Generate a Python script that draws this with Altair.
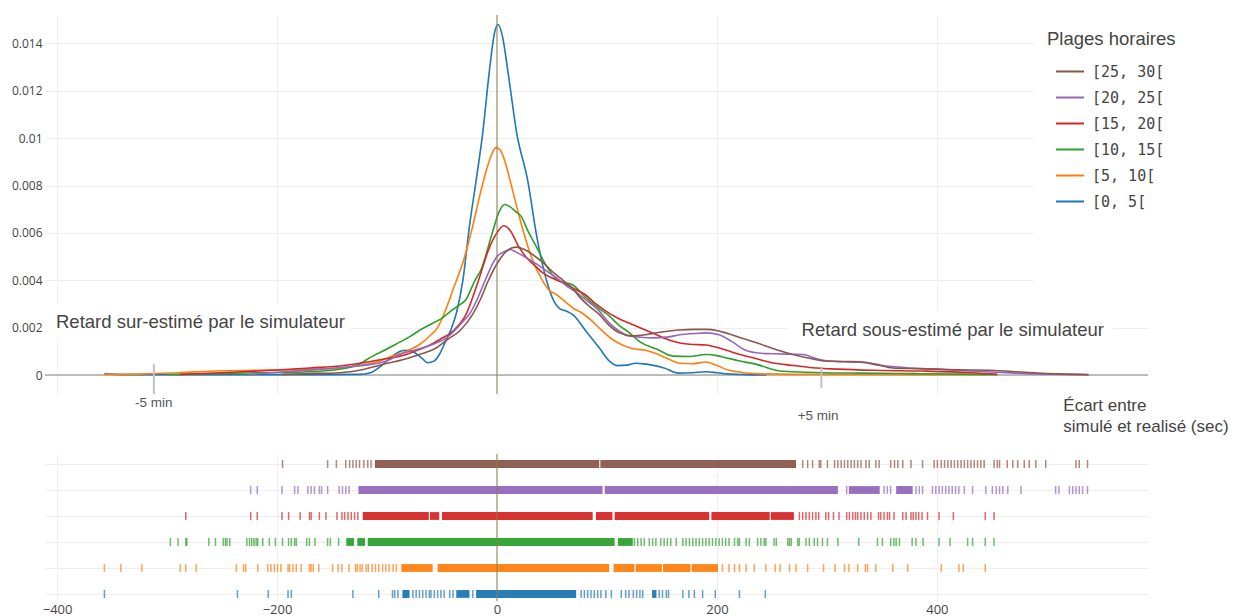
import altair as alt
import pandas as pd

# ---------------- categories / colours ----------------
series = ["[25, 30[", "[20, 25[", "[15, 20[", "[10, 15[", "[5, 10[", "[0, 5["]
colors = ["#8c564b", "#9467bd", "#d62728", "#2ca02c", "#ff7f0e", "#1f77b4"]

# ---------------- density curves ----------------
blue_x = [-357, -340, -300, -250, -200, -150, -125, -115, -105, -95, -88, -82, -75, -68, -63, -57, -52, -47, -42, -37,
          -31, -25, -19, -13, -7, -2, 1, 5, 10, 18, 28, 36, 45, 52, 57, 63, 69, 81, 93, 102, 110, 118, 126, 134, 141,
          152, 165, 178, 190, 200, 210, 225, 245]
blue_y = [0.00006, 0.00002, 0.00001, 0.00001, 0.00002, 0.00002, 0.00003, 0.0001, 0.0004, 0.0008, 0.001, 0.00105,
          0.00095, 0.0007, 0.00052, 0.0006, 0.0009, 0.0014, 0.0019, 0.0026, 0.004, 0.0063, 0.0082, 0.0102, 0.0128,
          0.0145, 0.0148, 0.0143, 0.0128, 0.0102, 0.0082, 0.0059, 0.0040, 0.0031, 0.0028, 0.0027, 0.00255, 0.00185,
          0.00115, 0.0006, 0.0004, 0.00042, 0.0005, 0.00047, 0.00042, 0.0003, 0.00008, 0.0001, 0.00014, 0.0001,
          0.00005, 0.00002, 0.0]

orange_x = [-357, -320, -290, -250, -220, -190, -160, -140, -125, -110, -95, -80, -70, -60, -54, -48, -40, -30, -22,
            -15, -8, -4, -1, 3, 8, 12, 18, 25, 32, 40, 47, 54, 62, 70, 78, 86, 95, 105, 115, 125, 135, 145, 155, 166,
            178, 190, 200, 211, 225, 240, 270, 320, 380, 445]
orange_y = [0.00003, 0.00005, 0.0001, 0.00018, 0.0002, 0.00022, 0.00026, 0.0003, 0.0004, 0.00055, 0.0008, 0.00105,
            0.0013, 0.0017, 0.002, 0.0026, 0.0036, 0.0049, 0.0063, 0.0077, 0.0089, 0.0094, 0.0096, 0.0095, 0.0089,
            0.0082, 0.0071, 0.0059, 0.0049, 0.0041, 0.0036, 0.0034, 0.0031, 0.0028, 0.0026, 0.0023, 0.0019, 0.0015,
            0.00125, 0.0011, 0.00105, 0.0009, 0.0007, 0.0005, 0.00048, 0.00055, 0.0004, 0.0002, 0.0001, 0.00005,
            0.00003, 0.00003, 0.00002, 0.00001]

green_x = [-298, -270, -240, -213, -180, -150, -128, -113, -100, -88, -80, -70, -58, -50, -42, -36, -28, -20, -14, -8,
           -3, 2, 7, 12, 17, 22, 28, 36, 45, 55, 62, 69, 80, 93, 102, 111, 120, 130, 145, 160, 175, 190, 200, 208,
           220, 236, 257, 280, 296, 330, 380, 420, 455]
green_y = [0.00002, 0.00005, 0.00008, 0.0001, 0.00012, 0.0002, 0.0004, 0.0008, 0.0011, 0.0014, 0.0016, 0.0019,
           0.0022, 0.0024, 0.0027, 0.0029, 0.0032, 0.0040, 0.0045, 0.0054, 0.0062, 0.0069, 0.0072, 0.0071, 0.0069,
           0.0067, 0.0061, 0.0054, 0.0046, 0.0040, 0.0039, 0.0038, 0.0033, 0.0028, 0.0025, 0.0021, 0.0018, 0.0014,
           0.0011, 0.0008, 0.00078, 0.00087, 0.00082, 0.00073, 0.0006, 0.00045, 0.00017, 0.00012, 0.0001, 0.00008,
           0.00006, 0.00004, 0.00002]

red_x = [-288, -250, -204, -170, -143, -113, -100, -88, -75, -64, -52, -40, -28, -17, -7, 0, 6, 12, 20, 28, 35, 42,
         50, 60, 72, 80, 90, 99, 110, 120, 130, 145, 160, 175, 190, 205, 220, 235, 250, 270, 287, 310, 341, 387, 432,
         455]
red_y = [0.00003, 0.0001, 0.0002, 0.0003, 0.00038, 0.00059, 0.0007, 0.0008, 0.001, 0.0012, 0.0015, 0.00186, 0.00257,
         0.00397, 0.00537, 0.006, 0.0063, 0.0061, 0.0054, 0.0049, 0.0046, 0.0043, 0.0041, 0.0039, 0.0036, 0.0034,
         0.0030, 0.0027, 0.0024, 0.0022, 0.002, 0.0017, 0.00143, 0.0013, 0.00127, 0.0011, 0.00088, 0.0007, 0.00052,
         0.0004, 0.00031, 0.00025, 0.0002, 0.00017, 0.0001, 0.00003]

purple_x = [-225, -190, -158, -135, -113, -100, -88, -75, -58, -45, -38, -30, -25, -18, -11, -5, 0, 6, 12, 17, 25,
            32, 39, 48, 57, 65, 72, 80, 93, 102, 111, 120, 130, 141, 155, 166, 178, 190, 202, 214, 226, 240, 250,
            265, 278, 290, 302, 315, 330, 350, 372, 395, 418, 440, 463, 490, 515, 538]
purple_y = [0.00003, 0.00015, 0.00025, 0.00035, 0.00046, 0.0006, 0.00088, 0.00105, 0.0013, 0.0016, 0.0019, 0.0023,
            0.00257, 0.0032, 0.00397, 0.0046, 0.005, 0.0052, 0.0053, 0.0052, 0.0050, 0.0048, 0.0046, 0.0043, 0.0040,
            0.0037, 0.0035, 0.0032, 0.0027, 0.0022, 0.00186, 0.00165, 0.0016, 0.00157, 0.0016, 0.0017, 0.00175,
            0.00178, 0.0017, 0.0014, 0.00105, 0.00092, 0.0009, 0.00088, 0.00087, 0.0007, 0.00059, 0.00056, 0.00054,
            0.0004, 0.00031, 0.00025, 0.0002, 0.00015, 0.0001, 0.00005, 0.00003, 0.00001]

brown_x = [-195, -170, -143, -125, -113, -100, -88, -75, -62, -55, -45, -34, -22, -15, -8, 0, 8, 17, 25, 32, 43, 52,
           60, 68, 75, 84, 93, 102, 111, 123, 135, 148, 165, 180, 190, 200, 208, 220, 236, 252, 269, 285, 299, 315,
           330, 345, 360, 380, 402, 420, 448, 480, 510, 538]
brown_y = [0.00003, 0.00006, 0.0001, 0.0002, 0.00034, 0.0005, 0.00062, 0.0008, 0.001, 0.00115, 0.0015, 0.00186,
           0.00257, 0.0032, 0.00397, 0.0047, 0.0052, 0.0054, 0.0053, 0.0051, 0.0047, 0.0043, 0.0040, 0.0037, 0.0033,
           0.0029, 0.00256, 0.0021, 0.00179, 0.00165, 0.0017, 0.00181, 0.0019, 0.00193, 0.00193, 0.00188, 0.00178,
           0.0016, 0.00136, 0.0011, 0.00087, 0.0007, 0.00059, 0.00057, 0.00056, 0.00045, 0.0003, 0.00027, 0.00025,
           0.00022, 0.0002, 0.00012, 0.00005, 0.00002]

# ---------------- rug: isolated ticks and dense stretches ----------------
blue_ticks = [-357, -236, -208, -190, -187, -131, -107.5, -95, -93, -90, -76.5, -73.5, -70.5, -67.5, -64.5, -61.5,
              -60, -57, -54, -51, -48, -43, -40, -22, 76.5, 79.5, 82.5, 85.5, 88.5, 91.5, 94.5, 99, 104, 113, 117,
              120, 124, 127, 130, 132.5, 147.5, 150.5, 154, 156, 169, 174.5, 179.5, 187, 198.5, 220.5, 244]
blue_bands = [(-86, -79.5), (-37, -25), (-19, 72), (141, 145)]

orange_ticks = [-357, -342, -323, -288, -283, -273.5, -237, -230.5, -228.5, -217.5, -208.5, -205.5, -202.5, -199.5,
                -196.5, -190, -188.5, -185.5, -182.5, -178, -170.5, -169, -167, -162, -149.5, -144.5, -141, -134.5,
                -128.5, -127, -124.5, -122.5, -119, -117, -113.5, -110.5, -107.5, -104, -101, -98, -94.5, -91.5,
                205, 211, 216, 220.5, 226.5, 234, 244.5, 253, 257.5, 266, 272, 282.5, 297, 307.5, 316, 320, 328, 335,
                337, 344.5, 360, 373.5, 404, 420, 424, 444]
orange_bands = [(-87, -58.5), (-54, 102), (106, 125), (126, 150), (151, 176), (177, 201)]

green_ticks = [-297, -290, -283, -282, -262, -256, -249, -247, -245.5, -243, -227.5, -225, -223, -221, -219, -217.5,
               -213, -207, -201.5, -195, -189.5, -187, -184, -182.5, -173, -170.5, -165.5, -154, -151.5, -144, 125,
               128, 131, 134, 138.5, 141.5, 144.5, 149, 152, 155, 158, 163, 169, 172, 175, 178, 181, 184, 187, 190,
               193, 196, 199, 202, 205, 208, 211, 216, 219, 220.5, 226.5, 229.5, 237, 240, 243, 244.5, 252, 254,
               264.5, 266, 267.5, 273.5, 275, 281, 284, 288.5, 291.5, 296, 300.5, 310, 329, 346, 350.5, 358, 361,
               363, 366, 377.5, 381, 387.5, 402, 412, 428, 432.5, 444, 452]
green_bands = [(-137, -130), (-127, -120), (-117.5, 107), (110, 123.5)]

red_ticks = [-283, -224, -218, -195.5, -189.5, -179, -170.5, -169, -161.5, -155.5, -145.5, -141, -138.5, -135.5,
             -132.5, -129.5, -126.5, 275, 278, 281, 284, 287, 290, 292.5, 299, 301.5, 306, 311, 318, 320.5, 323.5,
             326, 328, 331, 334, 337, 340, 347, 349, 352, 355, 357, 361, 369, 372, 376.5, 378.5, 381, 383.5, 386.5,
             391.5, 402, 415, 444, 452]
red_bands = [(-122, -62), (-61, -52.5), (-50, 87), (90, 105), (107, 193), (195, 248), (249, 270)]

purple_ticks = [-224, -218, -195.5, -184, -181, -172, -169, -166, -161.5, -159.5, -154, -143.5, -140.5, -137.5,
                -134.5, 318, 352, 355, 358, 381, 384, 387, 396, 399, 402, 405, 408, 411, 414, 417, 420, 425, 432.5,
                444.5, 450.5, 454, 457, 460, 464.5, 476.5, 508, 511, 520.5, 523.5, 526.5, 529.5, 532.5, 537]
purple_bands = [(-126, 96), (98, 310), (320, 348), (363, 378)]

brown_ticks = [-195, -154, -146, -137.5, -134, -131, -128, -125, -121, -117.5, -114.5, 278, 282.5, 287, 293, 294.5,
               300.5, 307, 310, 313, 316, 319, 322, 325, 328, 331, 335.5, 338.5, 344.5, 347.5, 358, 361.5, 364.5,
               369, 376.5, 387, 397.5, 400.5, 404, 407, 410, 413, 416, 419, 422, 425, 428, 431, 434, 437, 440, 443,
               452, 455, 457, 464, 469, 473.5, 479.5, 484, 490, 499, 526.5, 529.5, 537]
brown_bands = [(-111, 93), (94, 272)]

# ---------------- tables built from the arrays ----------------
curves = {"[0, 5[": (blue_x, blue_y), "[5, 10[": (orange_x, orange_y), "[10, 15[": (green_x, green_y),
          "[15, 20[": (red_x, red_y), "[20, 25[": (purple_x, purple_y), "[25, 30[": (brown_x, brown_y)}
ticks = {"[0, 5[": blue_ticks, "[5, 10[": orange_ticks, "[10, 15[": green_ticks,
         "[15, 20[": red_ticks, "[20, 25[": purple_ticks, "[25, 30[": brown_ticks}
bands = {"[0, 5[": blue_bands, "[5, 10[": orange_bands, "[10, 15[": green_bands,
         "[15, 20[": red_bands, "[20, 25[": purple_bands, "[25, 30[": brown_bands}
row_of = {s: i for i, s in enumerate(reversed(series))}

curve_df = pd.DataFrame([{"serie": s, "x": a, "y": b} for s, (xs, ys) in curves.items() for a, b in zip(xs, ys)])
tick_df = pd.DataFrame([{"serie": s, "x": v, "row": row_of[s]} for s, vs in ticks.items() for v in vs])
band_df = pd.DataFrame([{"serie": s, "x": a, "x2": b, "row": row_of[s]} for s, bs in bands.items() for a, b in bs])

# annotations (data coordinates)
boxes_df = pd.DataFrame({"x": [-413, 264, 488], "x2": [-134, 560, 592],
                         "y": [0.0015, 0.00114, 0.0035], "y2": [0.0030, 0.0027, 0.0152]})
notes_df = pd.DataFrame({"x": [-401, 277], "y": [0.00224, 0.0019],
                         "t": ["Retard sur-estimé par le simulateur", "Retard sous-estimé par le simulateur"]})
mins_rule_df = pd.DataFrame({"x": [-312, 295], "y": [0.00046, 0.0003], "y2": [-0.0008, -0.00055]})
mins_text_df = pd.DataFrame({"x": [-312, 292], "y": [-0.00118, -0.00173], "t": ["-5 min", "+5 min"]})
xtitle_df = pd.DataFrame({"x": [515, 515], "y": [-0.00131, -0.00218], "t": ["Écart entre", "simulé et realisé (sec)"]})
zero_df = pd.DataFrame({"x": [0], "y": [0]})

# ---------------- scales & axes ----------------
xscale = alt.Scale(domain=[-411, 592], nice=False, zero=False)
ytop = alt.Scale(domain=[-0.0008, 0.0152], nice=False, zero=False)
ybot = alt.Scale(domain=[-0.27, 5.385], nice=False, zero=False)
cscale = alt.Scale(domain=series, range=colors)

ax_x_top = alt.Axis(values=[-400, -200, 0, 200, 400], labels=False, ticks=False, domain=False,
                    grid=True, gridColor="#eeeeee", title=None)
ax_y_top = alt.Axis(values=[0, 0.002, 0.004, 0.006, 0.008, 0.01, 0.012, 0.014], format="~g",
                    labelFont="Open Sans", labelFontSize=12, labelColor="#444", labelPadding=3,
                    ticks=False, domain=False, grid=True, gridColor="#eeeeee", title=None)
ax_x_bot = alt.Axis(values=[-400, -200, 0, 200, 400], labelFont="Open Sans", labelFontSize=13, labelColor="#444",
                    labelPadding=2, ticks=False, domain=False, grid=True, gridColor="#eeeeee", title=None)
ax_y_bot = alt.Axis(values=[0, 1, 2, 3, 4, 5], labels=False, ticks=False, domain=False,
                    grid=True, gridColor="#eeeeee", title=None)

X = lambda f="x": alt.X(f"{f}:Q", scale=xscale, axis=ax_x_top)
Y = lambda f="y": alt.Y(f"{f}:Q", scale=ytop, axis=ax_y_top)

legend = alt.Legend(orient="none", legendX=990, legendY=3, title="Plages horaires", titleFont="Liberation Sans",
                    titleFontSize=18.5, titleFontWeight="normal", titleColor="#444", titlePadding=11,
                    labelFont="DejaVu Sans Mono", labelFontSize=15, labelColor="#444", symbolType="stroke",
                    symbolSize=784, symbolStrokeWidth=2, symbolOffset=8, labelOffset=7, clipHeight=24,
                    rowPadding=2, padding=12)

# ---------------- top panel ----------------
boxes = alt.Chart(boxes_df).mark_rect(fill="white").encode(x=X(), x2="x2:Q", y=Y(), y2="y2:Q")
zero_line = alt.Chart(zero_df).mark_rule(color="#a8a8a8", strokeWidth=1.5).encode(y=Y())
lines = alt.Chart(curve_df).mark_line(strokeWidth=1.6, interpolate="monotone").encode(
    x=X(), y=Y(), color=alt.Color("serie:N", scale=cscale, legend=legend))
vline_top = alt.Chart(zero_df).mark_rule(color="#8c7e4e", strokeWidth=1).encode(x=X())
min_rules = alt.Chart(mins_rule_df).mark_rule(color="#c0c0c0", strokeWidth=2).encode(x=X(), y=Y(), y2="y2:Q")
min_text = alt.Chart(mins_text_df).mark_text(font="Liberation Sans", fontSize=13.5, color="#555",
                                             align="center", baseline="middle").encode(x=X(), y=Y(), text="t:N")
notes = alt.Chart(notes_df).mark_text(font="Liberation Sans", fontSize=18.5, color="#444",
                                      align="left", baseline="middle").encode(x=X(), y=Y(), text="t:N")
xtitle = alt.Chart(xtitle_df).mark_text(font="Liberation Sans", fontSize=17, color="#444",
                                        align="left", baseline="middle").encode(x=X(), y=Y(), text="t:N")

top = alt.layer(boxes, zero_line, lines, vline_top, min_rules, min_text, notes, xtitle).properties(
    width=1103, height=379)

# ---------------- bottom panel (rug) ----------------
XB = lambda f="x": alt.X(f"{f}:Q", scale=xscale, axis=ax_x_bot)
rug_bands = alt.Chart(band_df).transform_calculate(
    y0="datum.row - 0.15", y1="datum.row + 0.15").mark_rect(opacity=0.95).encode(
    x=XB(), x2="x2:Q", y=alt.Y("y0:Q", scale=ybot, axis=ax_y_bot), y2="y1:Q",
    color=alt.Color("serie:N", scale=cscale, legend=None))
rug_ticks = alt.Chart(tick_df).mark_tick(orient="vertical", size=8, thickness=1.5, opacity=0.7).encode(
    x=XB(), y=alt.Y("row:Q", scale=ybot, axis=ax_y_bot),
    color=alt.Color("serie:N", scale=cscale, legend=None))
vline_bot = alt.Chart(zero_df).mark_rule(color="#8c7e4e", strokeWidth=1).encode(x=XB())

bottom = alt.layer(rug_bands, rug_ticks, vline_bot).properties(width=1103, height=147)

chart = alt.vconcat(top, bottom, spacing=60, bounds="flush").resolve_legend(color="independent").configure_view(
    stroke=None).properties(padding={"left": 3, "top": 6, "right": 0, "bottom": 0}, background="white")

chart.save("out.html", embed_options={"renderer": "svg", "actions": False})
